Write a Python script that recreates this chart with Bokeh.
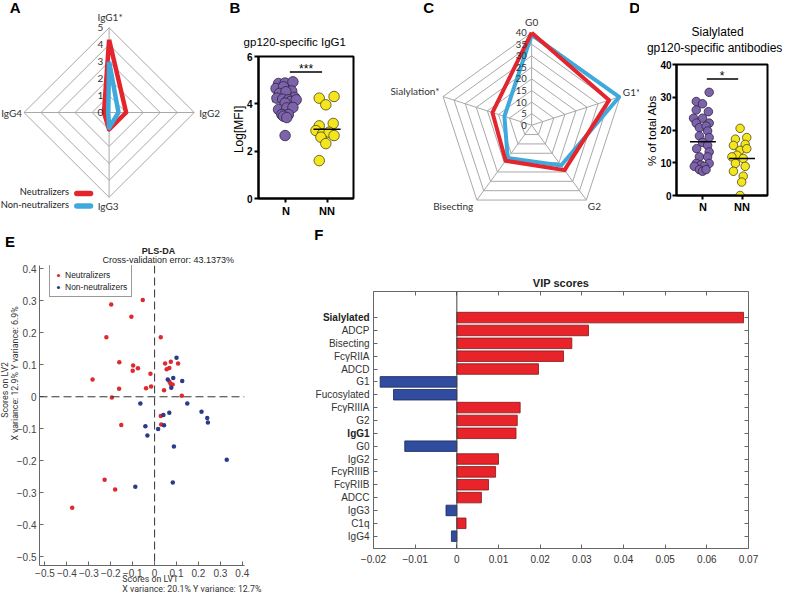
import math
from bokeh.plotting import figure
from bokeh.layouts import row, column
from bokeh.models import (Range1d, Label, Span, FixedTicker, LinearAxis, Legend, LegendItem)
from bokeh.embed import file_html
from bokeh.resources import INLINE
from bokeh.core.properties import value

# ======================= DATA =======================
# A - IgG subclass radar
a_axes = ["IgG1*", "IgG2", "IgG3", "IgG4"]
a_neutralizers = [4.3, 1.0, 1.0, 0.3]
a_non_neutralizers = [3.0, 0.55, 0.9, 0.05]
a_ticks = [0, 1, 2, 3, 4, 5]

# B - gp120-specific IgG1, Log[MFI]
b_groups = ["N", "NN"]
b_n_x = [0.82, 0.98, 1.17, 0.76, 0.94, 1.14, 0.84, 1.00, 1.21, 0.78, 0.92, 1.06,
         1.11, 1.25, 0.98, 0.82, 1.02, 1.17, 0.90, 1.06, 0.94, 1.02, 0.98]
b_n_y = [4.86, 4.88, 4.93, 4.65, 4.72, 4.54, 4.44, 4.51, 4.27, 4.24, 4.20, 4.17,
         4.10, 4.17, 4.03, 3.76, 3.83, 3.85, 3.55, 3.55, 3.48, 3.42, 2.66]
b_nn_x = [1.81, 2.17, 1.97, 1.81, 2.15, 1.73, 1.89, 2.05, 1.85, 2.17, 1.97, 1.81]
b_nn_y = [4.24, 4.31, 3.96, 3.07, 3.17, 2.87, 2.73, 2.80, 2.59, 2.66, 2.32, 1.60]
b_means = [4.10, 2.93]
b_ticks = [0, 2, 4, 6]
b_sig = "***"
b_sig_level = 5.35

# C - glycan radar
c_axes = ["G0", "G1*", "G2", "Bisecting", "Sialylation*"]
c_neutralizers = [40, 35, 24, 19, 17.7]
c_non_neutralizers = [39, 39.5, 21.5, 17.5, 12.3]
c_ticks = [0, 5, 10, 15, 20, 25, 30, 35, 40]

# D - Sialylated gp120-specific antibodies (% of total Abs)
d_groups = ["N", "NN"]
d_n_x = [1.16, 0.83, 0.99, 0.83, 1.14, 0.76, 0.99, 0.83, 1.16, 0.91, 1.08, 1.12, 0.91, 1.16,
         0.99, 1.12, 0.84, 1.16, 0.91, 1.12, 0.83, 1.16, 0.95, 0.78, 1.03, 0.91, 0.99, 1.08]
d_n_y = [31.5, 28.7, 28.0, 26.1, 25.6, 23.6, 23.6, 22.1, 22.1, 20.7, 21.2, 19.7, 18.2, 17.7,
         16.2, 15.3, 14.3, 13.3, 11.8, 11.8, 9.8, 9.8, 9.3, 8.9, 8.9, 7.9, 7.4, 7.9]
d_nn_x = [1.95, 1.83, 2.12, 1.78, 2.08, 1.95, 2.12, 1.87, 1.74, 2.03, 1.83, 2.08, 1.78, 2.03, 1.99, 1.95]
d_nn_y = [20.5, 17.2, 17.7, 15.3, 15.6, 13.8, 14.3, 12.3, 11.8, 11.3, 9.8, 8.9, 7.4, 5.9, 4.1, 0.0]
d_means = [16.4, 11.3]
d_ticks = [0, 10, 20, 30, 40]
d_sig = "*"
d_sig_level = 35.6

# E - PLS-DA scores
e_neut_x = [-0.054, -0.198, -0.106, -0.220, 0.028, -0.161, -0.098, -0.076, -0.100, -0.019, -0.283,
            -0.162, -0.039, -0.016, -0.195, -0.152, 0.048, 0.074, 0.107, 0.055, 0.067, 0.068,
            0.073, 0.082, 0.043, 0.124, 0.028, 0.030, -0.228, -0.180, -0.376]
e_neut_y = [0.302, 0.288, 0.250, 0.186, 0.186, 0.108, 0.098, 0.089, 0.081, 0.072, 0.054,
            0.025, 0.027, 0.032, -0.002, -0.088, 0.104, 0.109, 0.104, 0.086, 0.090, 0.047,
            0.040, 0.038, 0.020, 0.003, -0.060, -0.087, -0.259, -0.290, -0.347]
e_non_x = [0.100, 0.060, 0.085, 0.126, 0.076, -0.065, 0.149, 0.067, 0.040, 0.214, 0.240,
           0.243, -0.042, 0.043, 0.016, -0.033, 0.088, 0.329, -0.088, 0.083]
e_non_y = [0.122, 0.054, 0.059, 0.049, 0.028, -0.021, -0.021, -0.050, -0.057, -0.047, -0.066,
           -0.080, -0.092, -0.089, -0.101, -0.121, -0.155, -0.197, -0.281, -0.268]
e_ticks = [-0.5, -0.4, -0.3, -0.2, -0.1, 0.0, 0.1, 0.2, 0.3, 0.4]
e_tick_labels = ["\u22120.5", "\u22120.4", "\u22120.3", "\u22120.2", "\u22120.1", "0", "0.1", "0.2", "0.3", "0.4"]

# F - VIP scores
f_features = ["Sialylated", "ADCP", "Bisecting", "Fc\u03b3RIIA", "ADCD", "G1", "Fucosylated",
              "Fc\u03b3RIIIA", "G2", "IgG1", "G0", "IgG2", "Fc\u03b3RIIIB", "Fc\u03b3RIIB", "ADCC",
              "IgG3", "C1q", "IgG4"]
f_vip = [0.0688, 0.0316, 0.0276, 0.0256, 0.0196, -0.0184, -0.0152, 0.0152, 0.0145, 0.0142,
         -0.0125, 0.0100, 0.0093, 0.0076, 0.0059, -0.0026, 0.0022, -0.0013]
f_bold = ["Sialylated", "IgG1"]
f_xticks = [-0.02, -0.01, 0, 0.01, 0.02, 0.03, 0.04, 0.05, 0.06, 0.07]
f_xtick_labels = ["\u22120.02", "\u22120.01", "0", "0.01", "0.02", "0.03", "0.04", "0.05", "0.06", "0.07"]

# ======================= STYLE / LAYOUT =======================
ARIAL = "Liberation Sans"
SMALL = "Roboto"
CAL = "Lato"
RED_R, BLUE_R, GRID_R = "#E3262D", "#3FA9DD", "#A8A8A8"
PURPLE, PURPLE_LINE = "#7D63A9", "#2E2445"
YELLOW, YELLOW_LINE = "#F4E61A", "#4A4420"
E_RED, E_BLUE = "#DD2A2E", "#2C3A8C"
F_RED, F_RED_LINE, F_BLUE, F_BLUE_LINE = "#E8232A", "#7E1A1A", "#2F4C9F", "#1B2759"

W_PAGE, H_PAGE = 784, 594
SX, SY = W_PAGE / 800.0, H_PAGE / 610.0
ROW_SPLIT = 232   # reference y where the lower row of panels begins


def px(v):
    return int(round(v * SX))


def py(v):
    return int(round(v * SY))


def make_panel(box, frame, xr, yr, axes=False):
    bx0, by0, bx1, by1 = box
    fx0, fy0, fx1, fy1 = frame
    kw = dict(width=px(bx1) - px(bx0), height=py(by1) - py(by0),
              x_range=Range1d(*xr), y_range=Range1d(*yr), title=None,
              output_backend="svg", toolbar_location=None,
              min_border_left=px(fx0) - px(bx0), min_border_right=px(bx1) - px(fx1),
              min_border_top=py(fy0) - py(by0), min_border_bottom=py(by1) - py(fy1))
    if not axes:
        kw.update(x_axis_location=None, y_axis_location=None)
    p = figure(**kw)
    p.frame_align = False
    p.grid.visible = False
    p.outline_line_color = None
    p.background_fill_color = "white"
    p.border_fill_color = "white"

    def dx(rx):
        return xr[0] + (rx - fx0) / (fx1 - fx0) * (xr[1] - xr[0])

    def dy(ry):
        return yr[1] - (ry - fy0) / (fy1 - fy0) * (yr[1] - yr[0])
    return p, dx, dy


def lab(p, x, y, text, size, font=ARIAL, bold=False, align="center", baseline="middle",
        color="#222222", angle=0.0):
    """Text inside the frame of a plot."""
    p.add_layout(Label(x=x, y=y, text=text, text_font=font, text_font_size=f"{size}px",
                       text_font_style="bold" if bold else "normal", text_color=color,
                       text_align=align, text_baseline=baseline, angle=angle))


def outer(p, x, y, text, size, font=ARIAL, bold=False, align="center", baseline="middle",
          color="#222222", angle=0.0):
    """Text in a plot's border area: a text glyph on the overlay level (no frame clip)."""
    p.text(x=[x], y=[y], text=[text], text_font=value(font), text_font_size=f"{size}px",
           text_font_style="bold" if bold else "normal", text_color=color,
           text_align=align, text_baseline=baseline, angle=angle, level="overlay")


def radar_xy(vals):
    n = len(vals)
    xs, ys = [], []
    for k, v in enumerate(vals):
        ang = math.pi / 2 - 2 * math.pi * k / n
        xs.append(v * math.cos(ang))
        ys.append(v * math.sin(ang))
    return xs + xs[:1], ys + ys[:1]


def radar_grid(p, n, ticks):
    mx, my = [], []
    for t in ticks[1:]:
        xs, ys = radar_xy([t] * n)
        mx.append(xs)
        my.append(ys)
    for k in range(n):
        ang = math.pi / 2 - 2 * math.pi * k / n
        mx.append([0, ticks[-1] * math.cos(ang)])
        my.append([0, ticks[-1] * math.sin(ang)])
    p.multi_line(mx, my, line_color=GRID_R, line_width=1)


def mirror_axis(ticks):
    return LinearAxis(ticker=FixedTicker(ticks=ticks), major_label_overrides={t: "" for t in ticks},
                      axis_line_color=None, major_tick_in=4, major_tick_out=0,
                      major_tick_line_color="#666666", minor_tick_line_color=None,
                      major_label_standoff=0)


# ----------------------- Panel A -----------------------
boxA = (0, 0, 232, ROW_SPLIT)
A_CX, A_CY, A_PX = 111, 115, 17.4
xrA = ((boxA[0] - A_CX) / A_PX, (boxA[2] - A_CX) / A_PX)
yrA = ((A_CY - boxA[3]) / A_PX, (A_CY - boxA[1]) / A_PX)
pA, adx, ady = make_panel(boxA, boxA, xrA, yrA)
radar_grid(pA, len(a_axes), a_ticks)
xs, ys = radar_xy(a_neutralizers)
pA.line(xs, ys, line_color=RED_R, line_width=4.5, line_join="round")
xs, ys = radar_xy(a_non_neutralizers)
pA.line(xs, ys, line_color=BLUE_R, line_width=4.5, line_join="round")
pA.text(x=[adx(105)] * len(a_ticks), y=a_ticks, text=[str(t) for t in a_ticks],
        text_font=value(CAL), text_font_size="10px", text_align="right",
        text_baseline="middle", text_color="#333333")
lab(pA, adx(112), ady(17), a_axes[0], 10, font=CAL, color="#333333")
lab(pA, adx(203), ady(115), a_axes[1], 10, font=CAL, align="left", color="#333333")
lab(pA, adx(110), ady(211), a_axes[2], 10, font=CAL, color="#333333")
lab(pA, adx(22), ady(115), a_axes[3], 10, font=CAL, align="right", color="#333333")
lab(pA, adx(70), ady(196), "Neutralizers", 9.3, font=CAL, align="right", color="#222222")
lab(pA, adx(70), ady(209), "Non-neutralizers", 9.3, font=CAL, align="right", color="#222222")
pA.segment(x0=[adx(78)] * 2, x1=[adx(92)] * 2, y0=[ady(198), ady(211)], y1=[ady(198), ady(211)],
           line_color=[RED_R, BLUE_R], line_width=5.5, line_cap="round")
lab(pA, adx(15), ady(7), "A", 15, bold=True, color="black")

# ----------------------- Panel B -----------------------
boxB = (232, 0, 395, ROW_SPLIT)
frameB = (263, 57, 360, 203)
pB, bdx, bdy = make_panel(boxB, frameB, (0.333, 2.643), (0, 6), axes=True)
for ax in pB.axis:
    ax.axis_line_width = 2
    ax.axis_line_color = "black"
    ax.major_tick_line_width = 2
    ax.major_tick_line_color = "black"
    ax.major_tick_out = 4
    ax.major_tick_in = 0
    ax.minor_tick_line_color = None
    ax.major_label_text_font = ARIAL
    ax.major_label_text_font_style = "bold"
    ax.major_label_text_color = "black"
    ax.major_label_standoff = 2
pB.xaxis.ticker = FixedTicker(ticks=[1, 2])
pB.xaxis.major_label_overrides = {1: b_groups[0], 2: b_groups[1]}
pB.xaxis.major_label_text_font_size = "11px"
pB.yaxis.ticker = FixedTicker(ticks=b_ticks)
pB.yaxis.major_label_text_font_size = "10px"
pB.outline_line_color = "black"
pB.outline_line_width = 2
pB.segment(x0=[1 - 0.33], x1=[1 + 0.33], y0=[b_means[0]], y1=[b_means[0]],
           line_color="black", line_width=1.5)
pB.scatter(b_n_x, b_n_y, size=10.5, fill_color=PURPLE, line_color=PURPLE_LINE, line_width=0.8)
pB.scatter(b_nn_x, b_nn_y, size=10.5, fill_color=YELLOW, line_color=YELLOW_LINE, line_width=0.8)
pB.segment(x0=[2 - 0.33], x1=[2 + 0.33], y0=[b_means[1]], y1=[b_means[1]],
           line_color="black", line_width=1.5)
pB.segment(x0=[1.095], x1=[1.88], y0=[b_sig_level], y1=[b_sig_level], line_color="black", line_width=1.5)
lab(pB, 1.49, bdy(70), b_sig, 12, color="black")
outer(pB, bdx(300), bdy(42), "gp120-specific IgG1", 11.5, color="black")
outer(pB, bdx(243), bdy(132), "Log[MFI]", 12, color="black", angle=math.pi / 2)
outer(pB, bdx(239), bdy(7), "B", 15, bold=True, color="black")

# ----------------------- Panel C -----------------------
boxC = (395, 0, 652, ROW_SPLIT)
C_CX, C_CY, C_PX = 542, 128, 95 / 40.0
xrC = ((boxC[0] - C_CX) / C_PX, (boxC[2] - C_CX) / C_PX)
yrC = ((C_CY - boxC[3]) / C_PX, (C_CY - boxC[1]) / C_PX)
pC, cdx, cdy = make_panel(boxC, boxC, xrC, yrC)
radar_grid(pC, len(c_axes), c_ticks)
xs, ys = radar_xy(c_non_neutralizers)
pC.line(xs, ys, line_color=BLUE_R, line_width=4, line_join="round")
xs, ys = radar_xy(c_neutralizers)
pC.line(xs, ys, line_color=RED_R, line_width=4, line_join="round")
pC.text(x=[cdx(537)] * len(c_ticks), y=c_ticks, text=[str(t) for t in c_ticks],
        text_font=value(CAL), text_font_size="9.5px", text_align="right",
        text_baseline="middle", text_color="#333333")
lab(pC, cdx(542), cdy(22), c_axes[0], 10, font=CAL, color="#333333")
lab(pC, cdx(635), cdy(94), c_axes[1], 10, font=CAL, align="left", color="#333333")
lab(pC, cdx(606), cdy(211), c_axes[2], 10, font=CAL, color="#333333")
lab(pC, cdx(462), cdy(211), c_axes[3], 10, font=CAL, color="#333333")
lab(pC, cdx(448), cdy(93), c_axes[4], 10, font=CAL, align="right", color="#333333")
lab(pC, cdx(437), cdy(7), "C", 15, bold=True, color="black")
lab(pC, cdx(647), cdy(7), "D", 15, bold=True, color="black")

# ----------------------- Panel D -----------------------
boxD = (652, 0, 800, ROW_SPLIT)
frameD = (690, 66, 783, 200.7)
pD, ddx, ddy = make_panel(boxD, frameD, (0.325, 2.65), (0, 40), axes=True)
for ax in pD.axis:
    ax.axis_line_width = 2
    ax.axis_line_color = "black"
    ax.major_tick_line_width = 2
    ax.major_tick_line_color = "black"
    ax.major_tick_out = 4
    ax.major_tick_in = 0
    ax.minor_tick_line_color = None
    ax.major_label_text_font = ARIAL
    ax.major_label_text_font_style = "bold"
    ax.major_label_text_color = "black"
    ax.major_label_standoff = 1
pD.xaxis.ticker = FixedTicker(ticks=[1, 2])
pD.xaxis.major_label_overrides = {1: d_groups[0], 2: d_groups[1]}
pD.xaxis.major_label_text_font_size = "11px"
pD.yaxis.ticker = FixedTicker(ticks=d_ticks)
pD.yaxis.major_label_text_font_size = "10px"
pD.outline_line_color = "black"
pD.outline_line_width = 2
pD.scatter(d_n_x, d_n_y, size=8.5, fill_color=PURPLE, line_color=PURPLE_LINE, line_width=0.8)
pD.scatter(d_nn_x, d_nn_y, size=8.5, fill_color=YELLOW, line_color=YELLOW_LINE, line_width=0.8)
pD.segment(x0=[1 - 0.33, 2 - 0.33], x1=[1 + 0.33, 2 + 0.33], y0=d_means, y1=d_means,
           line_color="black", line_width=1.5)
pD.segment(x0=[1.1], x1=[1.9], y0=[d_sig_level], y1=[d_sig_level], line_color="black", line_width=1.5)
lab(pD, 1.49, ddy(78), d_sig, 12, color="black")
outer(pD, ddx(732), ddy(33), "Sialylated", 12, color="black")
outer(pD, ddx(729), ddy(49), "gp120-specific antibodies", 12, color="black")
outer(pD, ddx(665), ddy(134), "% of total Abs", 11.5, color="black", angle=math.pi / 2)

# ----------------------- Panel E -----------------------
boxE = (0, ROW_SPLIT, 280, 610)
frameE = (39.3, 272, 249, 580.7)
pE, edx, edy = make_panel(boxE, frameE, (-0.525, 0.41), (-0.527, 0.41), axes=True)
for ax in pE.axis:
    ax.axis_line_color = "#666666"
    ax.major_tick_line_color = "#666666"
    ax.major_tick_in = 4
    ax.major_tick_out = 0
    ax.minor_tick_line_color = None
    ax.major_label_text_font = ARIAL
    ax.major_label_text_font_size = "10px"
    ax.major_label_text_color = "#444444"
    ax.major_label_standoff = 3
    ax.ticker = FixedTicker(ticks=e_ticks)
    ax.major_label_overrides = dict(zip(e_ticks, e_tick_labels))
pE.add_layout(Span(location=0, dimension="height", line_color="#333333", line_width=1, line_dash="8 4"))
pE.add_layout(Span(location=0, dimension="width", line_color="#333333", line_width=1, line_dash="8 4"))
rr = pE.scatter(e_neut_x, e_neut_y, size=4.5, fill_color=E_RED, line_color=None)
rb = pE.scatter(e_non_x, e_non_y, size=4.5, fill_color=E_BLUE, line_color=None)
frame_h_E = py(frameE[3]) - py(frameE[1])
leg = Legend(items=[LegendItem(label="Neutralizers", renderers=[rr]),
                    LegendItem(label="Non-neutralizers", renderers=[rb])],
             location=(px(50) - px(frameE[0]), frame_h_E - 1 - 31),
             border_line_color="#333333", border_line_width=1, background_fill_color="white",
             label_text_font=ARIAL, label_text_font_size="8.5px", label_text_color="#222222",
             glyph_width=8, glyph_height=8, label_height=11, spacing=1, padding=4, margin=0,
             label_standoff=3)
pE.add_layout(leg)
outer(pE, edx(161), edy(257), "PLS-DA", 9, bold=True, color="#222222")
outer(pE, edx(171), edy(266), "Cross-validation error: 43.1373%", 9, color="#222222")
outer(pE, edx(124), edy(595), "Scores on LV1", 8.8, font=SMALL, align="left", color="#333333")
outer(pE, edx(124), edy(605), "X variance: 20.1%  Y variance: 12.7%", 8.8, font=SMALL, align="left",
      color="#333333")
outer(pE, edx(4), edy(400), "Scores on LV2", 8.8, font=SMALL, color="#333333", angle=math.pi / 2)
outer(pE, edx(14), edy(382), "X variance: 12.9%  Y variance: 6.9%", 8.8, font=SMALL, color="#333333",
      angle=math.pi / 2)
outer(pE, edx(9), edy(247), "E", 15, bold=True, color="black")

# ----------------------- Panel F -----------------------
boxF = (280, ROW_SPLIT, 800, 610)
frameF = (380.7, 299.3, 763.3, 562.7)
pF, fdx, fdy = make_panel(boxF, frameF, (-0.02, 0.07), (0.04, 20.03), axes=True)
f_xaxis = pF.below[0]
f_yaxis = pF.left[0]
n_f = len(f_features)
f_pos = list(range(n_f, 0, -1))
f_left = [min(0, v) for v in f_vip]
f_right = [max(0, v) for v in f_vip]
f_fill = [F_RED if v > 0 else F_BLUE for v in f_vip]
f_line = [F_RED_LINE if v > 0 else F_BLUE_LINE for v in f_vip]
pF.hbar(y=f_pos, left=f_left, right=f_right, height=0.82, fill_color=f_fill, line_color=f_line, line_width=0.8)
pF.add_layout(Span(location=0, dimension="height", line_color="#444444", line_width=1))
pF.outline_line_color = "#666666"
for ax in [f_xaxis, f_yaxis]:
    ax.axis_line_color = "#666666"
    ax.major_tick_line_color = "#666666"
    ax.major_tick_in = 4
    ax.major_tick_out = 0
    ax.minor_tick_line_color = None
    ax.major_label_text_font = ARIAL
    ax.major_label_text_font_size = "10px"
    ax.major_label_text_color = "#333333"
    ax.major_label_standoff = 4
f_xaxis.ticker = FixedTicker(ticks=f_xticks)
f_xaxis.major_label_overrides = dict(zip(f_xticks, f_xtick_labels))
f_xaxis.major_label_standoff = 6
f_yaxis.ticker = FixedTicker(ticks=f_pos)
f_yaxis.major_label_overrides = {pos: ("" if name in f_bold else name) for pos, name in zip(f_pos, f_features)}
pF.add_layout(mirror_axis(f_pos), "right")
pF.add_layout(mirror_axis(f_xticks), "above")
for pos, name in zip(f_pos, f_features):
    if name in f_bold:
        outer(pF, fdx(376.7), pos, name, 10, bold=True, align="right", color="#222222")
outer(pF, fdx(572), fdy(291), "VIP scores", 11, bold=True, color="#222222")
outer(pF, fdx(325), fdy(241), "F", 15, bold=True, color="black")

layout = column(row(pA, pB, pC, pD, spacing=0), row(pE, pF, spacing=0), spacing=0)
open("out.html", "w").write(file_html(layout, INLINE))
